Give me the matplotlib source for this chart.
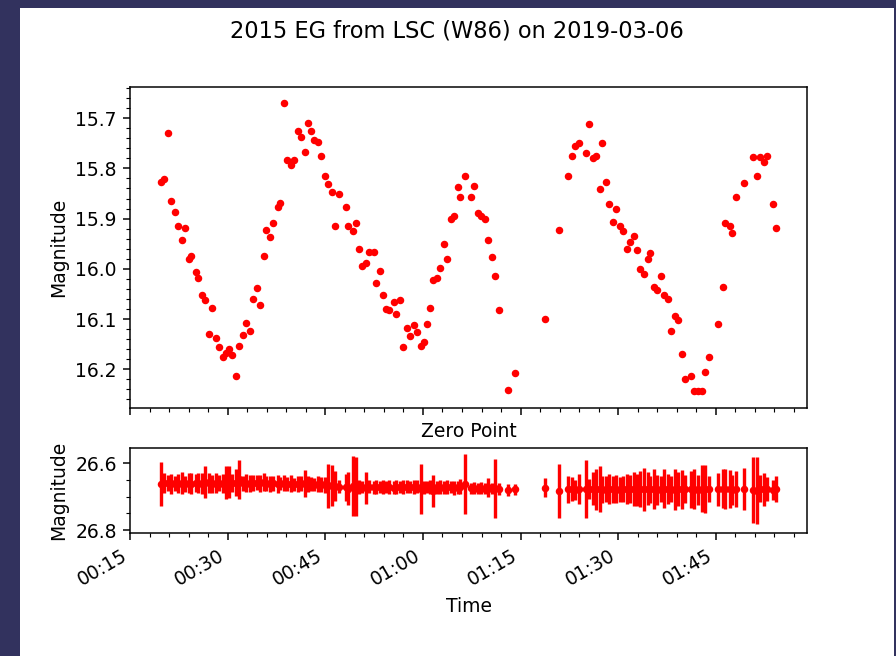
import datetime as dt
import matplotlib
matplotlib.use("Agg")
import matplotlib.pyplot as plt
import matplotlib.dates as mdates
from matplotlib.ticker import MultipleLocator
from matplotlib.patches import Rectangle

# minutes after 00:00 UT on 2019-03-06
minutes = [19.69, 20.20, 20.86, 21.23, 21.85, 22.31, 22.92, 23.38, 24.00, 24.40,
           25.08, 25.48, 26.09, 26.51, 27.12, 27.58, 28.20, 28.62, 29.23, 29.74,
           30.25, 30.71, 31.32, 31.74, 32.35, 32.82, 33.43, 33.85, 34.46, 34.92,
           35.54, 35.89, 36.55, 37.02, 37.69, 38.05, 38.66, 39.02, 39.74, 40.15,
           40.77, 41.23, 41.85, 42.25, 42.86, 43.23, 43.89, 44.31, 44.97, 45.38,
           46.00, 46.46, 47.08, 48.15, 48.55, 49.17, 49.63, 50.20, 50.66, 51.28,
           51.69, 52.40, 52.77, 53.38, 53.85, 54.35, 54.82, 55.48, 55.89, 56.51,
           56.97, 57.54, 58.05, 58.66, 59.08, 59.69, 60.15, 60.55, 61.12, 61.54,
           62.20, 62.62, 63.23, 63.69, 64.31, 64.71, 65.32, 65.74, 66.46, 67.43,
           67.89, 68.40, 68.92, 69.54, 70.05, 70.62, 71.02, 71.69, 73.12, 74.15,
           78.82, 80.86, 82.31, 82.97, 83.38, 84.05, 85.12, 85.48, 86.15, 86.55,
           87.17, 87.58, 88.20, 88.66, 89.28, 89.74, 90.35, 90.77, 91.38, 91.78,
           92.46, 92.86, 93.43, 93.94, 94.55, 94.97, 95.48, 96.00, 96.66, 97.08,
           97.74, 98.09, 98.71, 99.17, 99.78, 100.25, 101.28, 101.74, 102.35, 102.97,
           103.38, 104.00, 105.43, 106.09, 106.51, 107.17, 107.58, 108.20, 109.28, 110.71,
           111.32, 111.74, 112.40, 112.82, 113.85, 114.31]

magnitude = [15.827, 15.822, 15.729, 15.865, 15.887, 15.914, 15.942, 15.919, 15.980, 15.974,
             16.007, 16.018, 16.053, 16.063, 16.129, 16.077, 16.137, 16.156, 16.175, 16.167,
             16.159, 16.172, 16.213, 16.154, 16.132, 16.107, 16.123, 16.061, 16.039, 16.072,
             15.974, 15.922, 15.936, 15.909, 15.876, 15.868, 15.669, 15.783, 15.794, 15.784,
             15.726, 15.737, 15.767, 15.710, 15.726, 15.743, 15.748, 15.775, 15.816, 15.832,
             15.848, 15.914, 15.851, 15.876, 15.914, 15.925, 15.909, 15.960, 15.995, 15.988,
             15.966, 15.966, 16.028, 16.004, 16.053, 16.080, 16.082, 16.066, 16.090, 16.063,
             16.156, 16.118, 16.134, 16.112, 16.126, 16.154, 16.146, 16.110, 16.077, 16.023,
             16.018, 15.999, 15.950, 15.980, 15.901, 15.895, 15.837, 15.857, 15.816, 15.857,
             15.835, 15.889, 15.895, 15.900, 15.942, 15.976, 16.015, 16.082, 16.241, 16.208,
             16.099, 15.922, 15.816, 15.775, 15.756, 15.750, 15.769, 15.712, 15.780, 15.775,
             15.841, 15.750, 15.827, 15.870, 15.906, 15.881, 15.914, 15.925, 15.960, 15.946,
             15.935, 15.963, 16.001, 16.010, 15.980, 15.968, 16.036, 16.042, 16.015, 16.053,
             16.061, 16.123, 16.093, 16.102, 16.170, 16.219, 16.213, 16.243, 16.243, 16.243,
             16.205, 16.175, 16.110, 16.036, 15.909, 15.914, 15.928, 15.857, 15.829, 15.778,
             15.816, 15.778, 15.788, 15.775, 15.871, 15.919]

zero_point = [26.661, 26.660, 26.659, 26.662, 26.660, 26.661, 26.659, 26.662, 26.660, 26.661,
              26.659, 26.660, 26.661, 26.655, 26.660, 26.662, 26.660, 26.659, 26.661, 26.658,
              26.656, 26.660, 26.658, 26.648, 26.660, 26.659, 26.661, 26.660, 26.658, 26.660,
              26.655, 26.660, 26.661, 26.660, 26.662, 26.661, 26.660, 26.662, 26.661, 26.663,
              26.662, 26.661, 26.660, 26.663, 26.662, 26.664, 26.662, 26.663, 26.664, 26.668,
              26.666, 26.668, 26.670, 26.672, 26.676, 26.668, 26.670, 26.670, 26.671, 26.674,
              26.670, 26.672, 26.670, 26.671, 26.672, 26.670, 26.671, 26.673, 26.670, 26.671,
              26.672, 26.670, 26.671, 26.672, 26.670, 26.676, 26.672, 26.671, 26.672, 26.682,
              26.672, 26.671, 26.673, 26.672, 26.671, 26.673, 26.672, 26.670, 26.662, 26.675,
              26.674, 26.676, 26.675, 26.676, 26.672, 26.676, 26.675, 26.677, 26.680, 26.678,
              26.673, 26.683, 26.678, 26.677, 26.679, 26.676, 26.678, 26.677, 26.676, 26.678,
              26.677, 26.679, 26.677, 26.676, 26.678, 26.677, 26.679, 26.677, 26.676, 26.678,
              26.677, 26.679, 26.677, 26.678, 26.676, 26.678, 26.677, 26.679, 26.677, 26.676,
              26.678, 26.677, 26.679, 26.677, 26.678, 26.676, 26.678, 26.677, 26.679, 26.676,
              26.678, 26.677, 26.678, 26.676, 26.678, 26.677, 26.679, 26.677, 26.678, 26.680,
              26.682, 26.676, 26.678, 26.677, 26.679, 26.677]

zero_point_err = [0.066, 0.030, 0.024, 0.030, 0.022, 0.028, 0.032, 0.024, 0.030, 0.032,
                  0.026, 0.030, 0.032, 0.048, 0.030, 0.028, 0.030, 0.024, 0.028, 0.050,
                  0.048, 0.027, 0.040, 0.058, 0.022, 0.028, 0.026, 0.024, 0.022, 0.026,
                  0.027, 0.022, 0.024, 0.022, 0.026, 0.020, 0.024, 0.022, 0.026, 0.020,
                  0.024, 0.022, 0.040, 0.024, 0.022, 0.020, 0.024, 0.022, 0.024, 0.065,
                  0.062, 0.045, 0.020, 0.040, 0.050, 0.090, 0.088, 0.021, 0.019, 0.048,
                  0.020, 0.019, 0.021, 0.019, 0.021, 0.018, 0.020, 0.019, 0.021, 0.019,
                  0.021, 0.020, 0.018, 0.021, 0.019, 0.075, 0.020, 0.019, 0.021, 0.048,
                  0.019, 0.021, 0.020, 0.021, 0.019, 0.021, 0.020, 0.022, 0.090, 0.016,
                  0.018, 0.016, 0.018, 0.017, 0.029, 0.016, 0.088, 0.018, 0.018, 0.016,
                  0.028, 0.080, 0.040, 0.035, 0.030, 0.045, 0.087, 0.030, 0.050, 0.062,
                  0.068, 0.040, 0.038, 0.045, 0.040, 0.042, 0.038, 0.040, 0.045, 0.042,
                  0.050, 0.048, 0.055, 0.065, 0.050, 0.040, 0.060, 0.045, 0.040, 0.058,
                  0.045, 0.040, 0.062, 0.050, 0.058, 0.042, 0.055, 0.060, 0.045, 0.070,
                  0.072, 0.040, 0.050, 0.058, 0.060, 0.058, 0.045, 0.055, 0.063, 0.100,
                  0.100, 0.040, 0.050, 0.035, 0.030, 0.040]

title = "2015 EG from LSC (W86) on 2019-03-06"

base = dt.datetime(2019, 3, 6)
times = [base + dt.timedelta(minutes=m) for m in minutes]

W, H, DPI = 896, 656, 135
fig = plt.figure(figsize=(W / DPI, H / DPI), dpi=DPI, facecolor="#32325e")
fig.add_artist(Rectangle((20 / W, 0), 874 / W, 648 / H, transform=fig.transFigure,
                         facecolor="white", edgecolor="none", zorder=-10))

ax1 = fig.add_axes([130 / W, 1 - 408 / H, 677 / W, 321 / H])
ax2 = fig.add_axes([130 / W, 1 - 533 / H, 677 / W, 85 / H], sharex=ax1)

ax1.plot(times, magnitude, "r.")
ax1.set_ylim(16.277, 15.638)
ax1.yaxis.set_major_locator(MultipleLocator(0.1))
ax1.yaxis.set_minor_locator(MultipleLocator(0.02))
ax1.set_ylabel("Magnitude")
ax1.tick_params(labelbottom=False)

ax2.errorbar(times, zero_point, yerr=zero_point_err, fmt="r.", elinewidth=1.8)
ax2.set_ylim(26.809, 26.554)
ax2.yaxis.set_major_locator(MultipleLocator(0.2))
ax2.yaxis.set_minor_locator(MultipleLocator(0.05))
ax2.set_ylabel("Magnitude")
ax2.set_xlabel("Time")
ax2.set_title("Zero Point", fontsize=10)

ax2.xaxis.set_major_locator(mdates.MinuteLocator(byminute=[0, 15, 30, 45]))
ax2.xaxis.set_minor_locator(mdates.MinuteLocator(byminute=range(0, 60, 3)))
ax2.xaxis.set_major_formatter(mdates.DateFormatter("%H:%M"))
for lab in ax2.get_xticklabels():
    lab.set_rotation(30)
    lab.set_ha("right")

fig.suptitle(title, x=457 / W, y=1 - 20 / H, va="top", fontsize=12)

fig.savefig("out.png", dpi=DPI, facecolor=fig.get_facecolor())
